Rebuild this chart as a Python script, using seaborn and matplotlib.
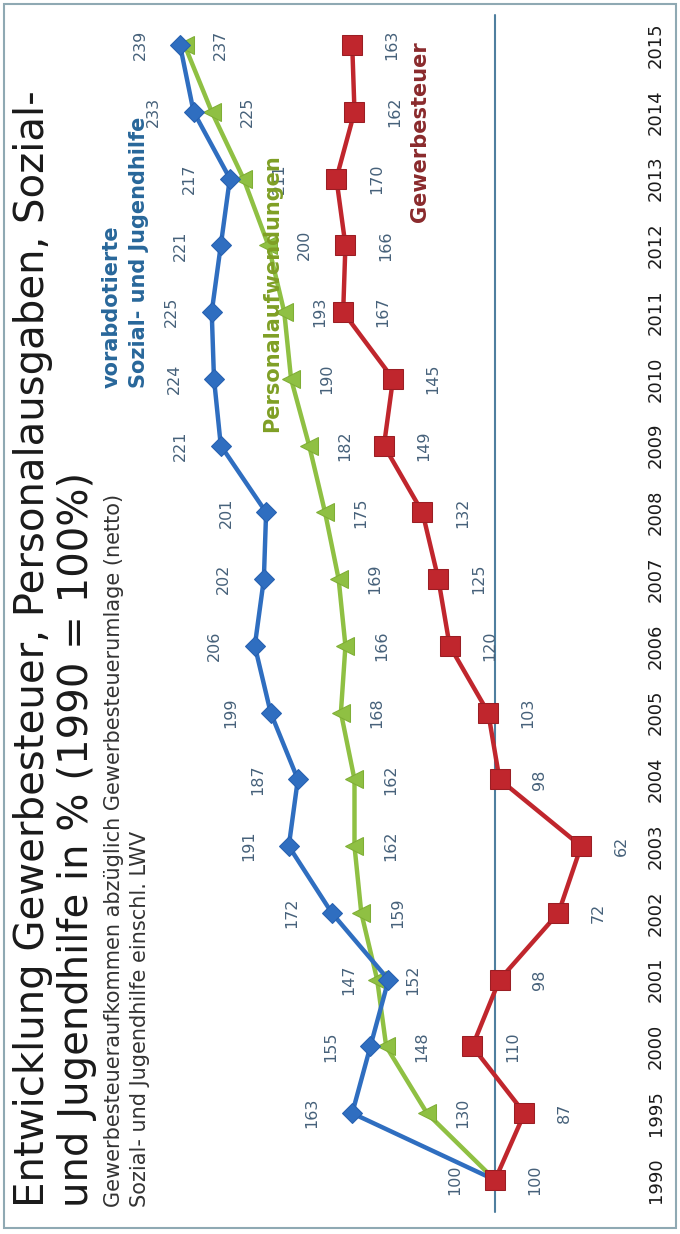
import matplotlib
matplotlib.use("Agg")
import matplotlib.pyplot as plt
import seaborn as sns
import pandas as pd
from matplotlib.patches import Rectangle

years = ["1990", "1995", "2000", "2001", "2002", "2003", "2004", "2005", "2006",
         "2007", "2008", "2009", "2010", "2011", "2012", "2013", "2014", "2015"]
sozial = [100, 163, 155, 147, 172, 191, 187, 199, 206, 202, 201, 221, 224, 225, 221, 217, 233, 239]
personal = [100, 130, 148, 152, 159, 162, 162, 168, 166, 169, 175, 182, 190, 193, 200, 211, 225, 237]
gewerbe = [100, 87, 110, 98, 72, 62, 98, 103, 120, 125, 132, 149, 145, 167, 166, 170, 162, 163]

title_lines = ["Entwicklung Gewerbesteuer, Personalausgaben, Sozial-",
               "und Jugendhilfe in % (1990 = 100%)"]
sub_lines = ["Gewerbesteueraufkommen abzüglich Gewerbesteuerumlage (netto)",
             "Sozial- und Jugendhilfe einschl. LWV"]
series_names = ["vorabdotierte", "Sozial- und Jugendhilfe", "Personalaufwendungen", "Gewerbesteuer"]

sns.set_theme(style="white")
plt.rcParams["font.family"] = ["DejaVu Sans"]

W, H = 680, 1234
fig = plt.figure(figsize=(W / 100, H / 100), dpi=100)
ax = fig.add_axes([0, 0, 1, 1])

# pixel mapping: value 100 -> x=495 px, 239 -> x=180 px ; year index 0 -> y=1180, 17 -> y=45
kx = (495 - 180) / (239 - 100)
x_left = 100 + 495 / kx
x_right = 100 - (W - 495) / kx
ky = (1180 - 45) / 17
y_bottom = -(H - 1180) / ky
y_top = 1180 / ky
ax.set_xlim(x_left, x_right)
ax.set_ylim(y_bottom, y_top)
ax.axis("off")

idx = list(range(len(years)))
df = pd.DataFrame({"idx": idx, "sozial": sozial, "personal": personal, "gewerbe": gewerbe})

# baseline (value 100)
ax.plot([100, 100], [(1180 - 1212) / ky, (1180 - 15) / ky], color="#4f7f9f", lw=1.5, zorder=1)

blue = "#2f6ec0"
green = "#8fc043"
red = "#c0262d"

sns.lineplot(data=df, x="personal", y="idx", orient="y", sort=False, ax=ax, color=green,
             lw=3.2, marker="<", markersize=13, markeredgecolor="#7fae35",
             markerfacecolor=green, zorder=3)
sns.lineplot(data=df, x="sozial", y="idx", orient="y", sort=False, ax=ax, color=blue,
             lw=3.2, marker="D", markersize=10, markeredgecolor="#2660b0",
             markerfacecolor=blue, zorder=4)
sns.lineplot(data=df, x="gewerbe", y="idx", orient="y", sort=False, ax=ax, color=red,
             lw=3.2, marker="s", markersize=14, markeredgecolor="#9a1e24",
             markerfacecolor=red, zorder=5)

lab_col = "#46617a"
for i in idx:
    ax.annotate(str(sozial[i]), (sozial[i], i), xytext=(-40, 0), textcoords="offset pixels",
                rotation=90, ha="center", va="center", fontsize=11.5, color=lab_col, zorder=6)
    if i > 0:
        ax.annotate(str(personal[i]), (personal[i], i), xytext=(36, 0), textcoords="offset pixels",
                    rotation=90, ha="center", va="center", fontsize=11.5, color=lab_col, zorder=6)
    ax.annotate(str(gewerbe[i]), (gewerbe[i], i), xytext=(40, 0), textcoords="offset pixels",
                rotation=90, ha="center", va="center", fontsize=11.5, color=lab_col, zorder=6)

# year labels
trans = ax.get_yaxis_transform()
for i, yr in enumerate(years):
    ax.text(656 / W, i, yr, transform=trans, rotation=90, ha="center", va="center",
            fontsize=13, color="#1a1a1a")

def fx(px):
    return px / W

def fy(py):
    return 1 - py / H

# title
fig.text(fx(33), fy(1207), title_lines[0], rotation=90, ha="center", va="bottom",
         fontsize=29, color="#1a1a1a")
fig.text(fx(77), fy(1207), title_lines[1], rotation=90, ha="center", va="bottom",
         fontsize=29, color="#1a1a1a")
fig.text(fx(114), fy(1207), sub_lines[0], rotation=90, ha="center", va="bottom",
         fontsize=15, color="#333333")
fig.text(fx(140), fy(1207), sub_lines[1], rotation=90, ha="center", va="bottom",
         fontsize=15, color="#333333")

# series labels
fig.text(fx(112), fy(388), series_names[0], rotation=90, ha="center", va="bottom",
         fontsize=15, fontweight="bold", color="#28679a")
fig.text(fx(139), fy(388), series_names[1], rotation=90, ha="center", va="bottom",
         fontsize=15, fontweight="bold", color="#28679a")
fig.text(fx(272), fy(432), series_names[2], rotation=90, ha="center", va="bottom",
         fontsize=15, fontweight="bold", color="#7f9f25")
fig.text(fx(420), fy(222), series_names[3], rotation=90, ha="center", va="bottom",
         fontsize=15, fontweight="bold", color="#8a2a2c")

# frame
fig.patches.append(Rectangle((fx(4), fy(1228)), fx(672), 1224 / H, transform=fig.transFigure,
                             fill=False, edgecolor="#8fa9b3", lw=1.5))

fig.savefig("out.png", dpi=100)
